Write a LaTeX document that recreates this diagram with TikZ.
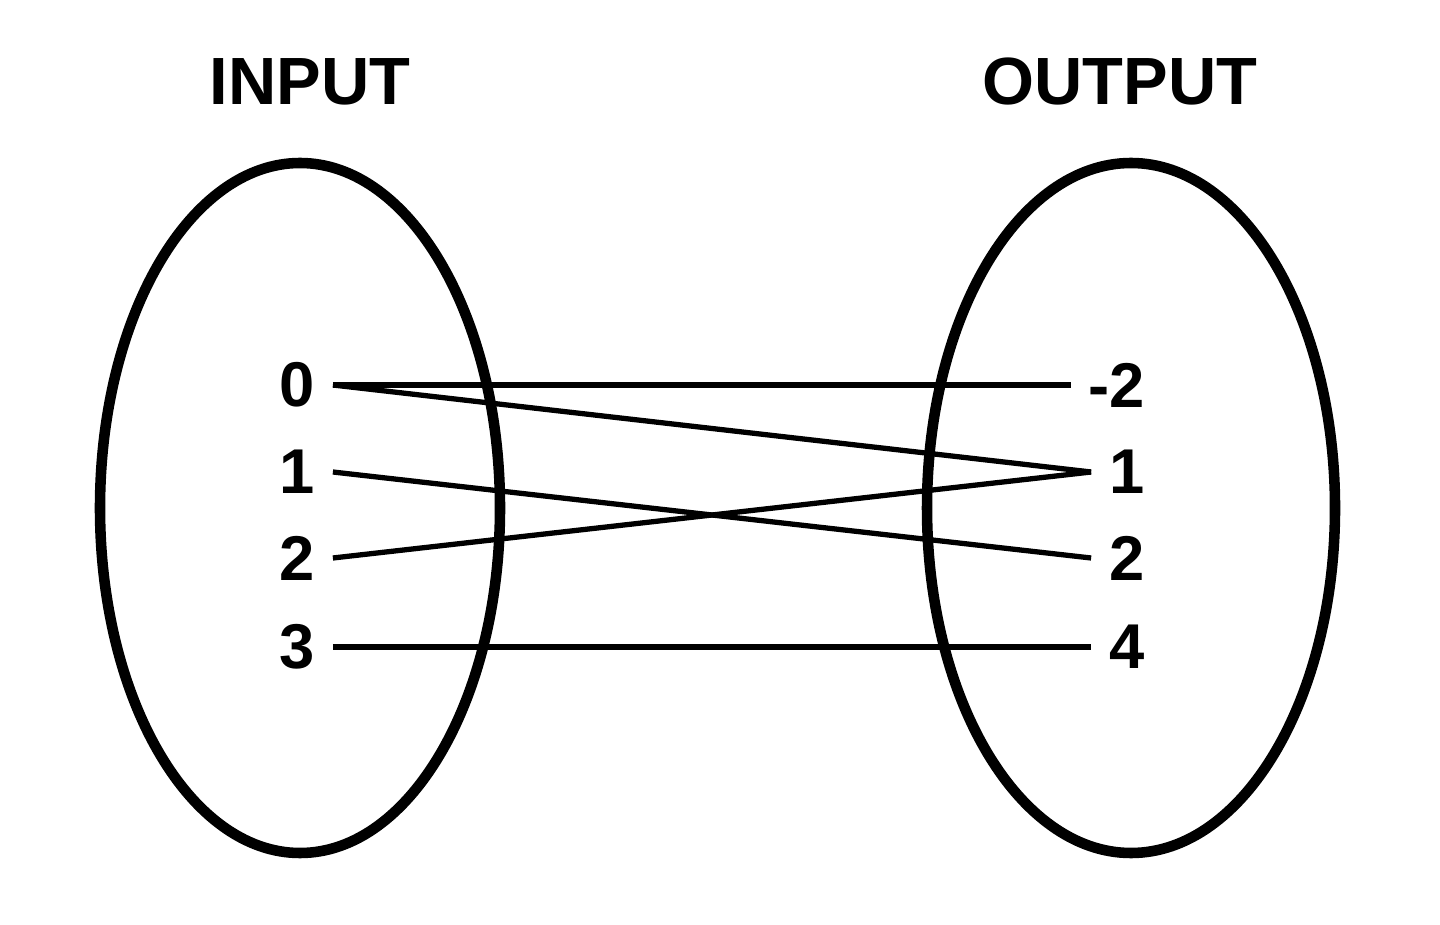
\documentclass[tikz,border=0pt]{standalone}
\usepackage{fontspec}
\setmainfont{Liberation Sans}
\usetikzlibrary{positioning}
\tikzset{
  setring/.style={line width=3pt},
  elem/.style={font=\fontsize{18}{18}\selectfont\bfseries, inner sep=5pt},
  heading/.style={font=\fontsize{19}{19}\selectfont\bfseries},
  maps/.style={line width=1.5pt}
}
\begin{document}
\begin{tikzpicture}[x=0.01cm, y=-0.01cm]
  \useasboundingbox (0,0) rectangle (1440,925);
  % sets
  \draw[setring] (300,508) ellipse [x radius=200, y radius=345];
  \draw[setring] (1131,508) ellipse [x radius=204, y radius=345];
  % headings
  \node[heading] (in) at (310,82) {INPUT};
  \node[heading] (out) at (1120,82) {OUTPUT};
  % domain
  \node[elem] (a0) at (297,385) {0};
  \node[elem] (a1) at (297,472) {1};
  \node[elem] (a2) at (297,558) {2};
  \node[elem] (a3) at (297,647) {3};
  % range
  \node[elem] (b0) at (1117,385) {-2};
  \node[elem] (b1) at (1127,472) {1};
  \node[elem] (b2) at (1127,558) {2};
  \node[elem] (b3) at (1127,647) {4};
  % arrows of the mapping
  \draw[maps] (a0.east) -- (b0.west);
  \draw[maps] (a0.east) -- (b1.west);
  \draw[maps] (a1.east) -- (b2.west);
  \draw[maps] (a2.east) -- (b1.west);
  \draw[maps] (a3.east) -- (b3.west);
\end{tikzpicture}
\end{document}
